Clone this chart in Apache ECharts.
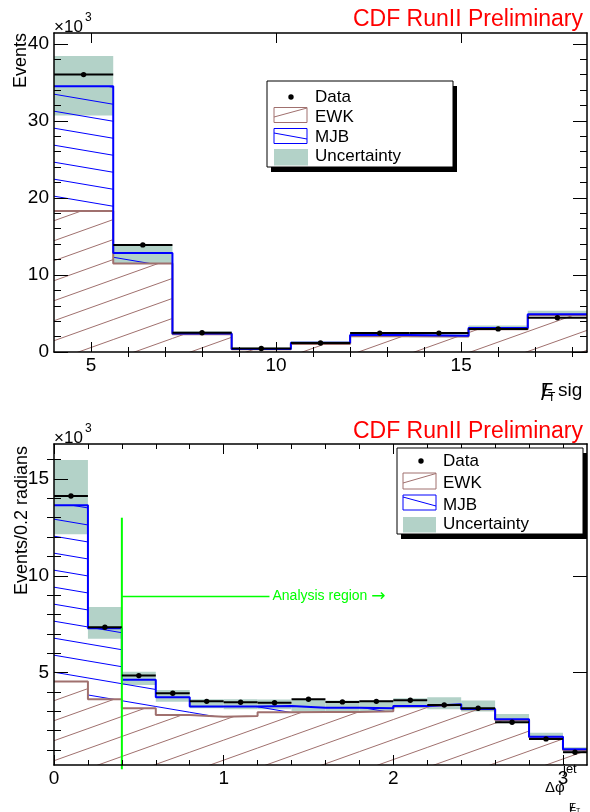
<!DOCTYPE html>
<html><head><meta charset="utf-8">
<script src="https://cdn.jsdelivr.net/npm/echarts@6/dist/echarts.min.js"></script>
<style>html,body{margin:0;padding:0;background:#fff}#c{width:590px;height:812px}</style>
</head><body><div id="c"></div>
<script>
// ---------- top panel: MET significance ----------
const topEdges  = [4.0, 5.6, 7.2, 8.8, 10.4, 12.0, 13.6, 15.2, 16.8, 18.4];
const topData   = [36000, 13900, 2500, 450, 1170, 2450, 2450, 3000, 4450];
const topEWK    = [18300, 11500, 2300, 350, 1050, 2050, 2000, 2950, 4800];
const topTotal  = [34500, 12850, 2400, 400, 1200, 2200, 2100, 3100, 4900];
const topUncLo  = [30700, 11500, 2200, 300, 1000, 2000, 1900, 2900, 4650];
const topUncHi  = [38400, 13850, 2700, 600, 1400, 2500, 2300, 3450, 5350];
const topXMajor = [5, 10, 15];
const topXMinor = [6, 7, 8, 9, 11, 12, 13, 14, 16, 17, 18];
const topYMajor = [0, 10000, 20000, 30000, 40000];
const topYMinor = [2000, 4000, 6000, 8000, 12000, 14000, 16000, 18000, 22000, 24000, 26000, 28000, 32000, 34000, 36000, 38000];

// ---------- bottom panel: delta phi(MET, jet) ----------
const botEdges  = [0, 0.2, 0.4, 0.6, 0.8, 1.0, 1.2, 1.4, 1.6, 1.8, 2.0, 2.2, 2.4, 2.6, 2.8, 3.0, 3.1416];
const botData   = [14120, 7340, 4840, 3930, 3510, 3460, 3440, 3620, 3480, 3510, 3570, 3320, 3150, 2430, 1570, 880];
const botEWK    = [4530, 3620, 3150, 2810, 2720, 2750, 2950, 2960, 2960, 3000, 3250, 3330, 3100, 2550, 1650, 1000];
const botTotal  = [13640, 7290, 4620, 3720, 3240, 3240, 3270, 3180, 3180, 3150, 3270, 3360, 3120, 2580, 1680, 1030];
const botUncLo  = [12140, 6750, 4360, 3490, 3150, 3100, 3100, 2980, 3000, 3000, 3150, 3100, 2980, 2380, 1510, 860];
const botUncHi  = [15980, 8390, 5040, 4100, 3620, 3620, 3600, 3580, 3550, 3550, 3670, 3720, 3550, 2860, 1890, 1140];
const botXMajor = [0, 1, 2, 3];
const botXMinor = [0.2, 0.4, 0.6, 0.8, 1.2, 1.4, 1.6, 1.8, 2.2, 2.4, 2.6, 2.8];
const botYMajor = [5000, 10000, 15000];
const botYMinor = [1000, 2000, 3000, 4000, 6000, 7000, 8000, 9000, 11000, 12000, 13000, 14000, 16000];
const analysisCut = 0.4;
const analysisTop = 13000;
const arrowLevel = 8930;
const arrowEnd = 1.27;
const analysisLabel = 'Analysis region {a|\u2192}';

const FONT = '"Liberation Sans", Arial, Helvetica, sans-serif';
const BROWN = '#a0706e', BLUE = '#0000ff', BAND = '#b3d2c8', GREEN = '#00ff00';

function hatch(W, H, color, rising) {
  const c = document.createElement('canvas'); c.width = W; c.height = H;
  const g = c.getContext('2d'); g.strokeStyle = color; g.lineWidth = 1;
  for (let k = -1; k <= 1; k++) {
    g.beginPath();
    if (rising) { g.moveTo(0, H + k * H); g.lineTo(W, k * H); }
    else { g.moveTo(0, k * H); g.lineTo(W, H + k * H); }
    g.stroke();
  }
  return c;
}
const ewkPat = { image: hatch(56, 20, BROWN, true), repeat: 'repeat' };
const mjbPat = { image: hatch(100, 17, BLUE, false), repeat: 'repeat' };

function makeAxes(dim, gridIndex, min, max, major, minor, fmt, majorLen, minorLen) {
  const pMain = dim === 'x' ? 'bottom' : 'left';
  const pOpp = dim === 'x' ? 'top' : 'right';
  const base = { type: 'value', gridIndex, min, max, z: 10, splitLine: { show: false }, minorTick: { show: false }, axisPointer: { show: false } };
  const line = { show: true, onZero: false, lineStyle: { color: '#000', width: 1.5 } };
  const tick = (vals, len) => ({ show: true, inside: true, length: len, customValues: vals, lineStyle: { color: '#000', width: 1 } });
  return [
    Object.assign({}, base, { position: pMain, axisLine: line, axisTick: tick(major, majorLen),
      axisLabel: { show: true, customValues: major, formatter: fmt, color: '#000', fontSize: 19, fontFamily: FONT, margin: dim === 'x' ? 4 : 5 } }),
    Object.assign({}, base, { position: pMain, axisLine: { show: false }, axisTick: tick(minor, minorLen), axisLabel: { show: false } }),
    Object.assign({}, base, { position: pOpp, axisLine: line, axisTick: tick(major, majorLen), axisLabel: { show: false } }),
    Object.assign({}, base, { position: pOpp, axisLine: { show: false }, axisTick: tick(minor, minorLen), axisLabel: { show: false } })
  ];
}
const fmtX = v => String(v);
const fmtY = v => String(Math.round(v / 1000));

const xAxes = makeAxes('x', 0, 4.0, 18.4, topXMajor, topXMinor, fmtX, 10, 5)
  .concat(makeAxes('x', 1, 0, 3.1416, botXMajor, botXMinor, fmtX, 10, 5));
const yAxes = makeAxes('y', 0, 0, 41400, topYMajor, topYMinor, fmtY, 14, 7)
  .concat(makeAxes('y', 1, 220, 16810, botYMajor, botYMinor, fmtY, 14, 7));

function rectRenderer(fill) {
  return function (params, api) {
    const p0 = api.coord([api.value(0), api.value(3)]);
    const p1 = api.coord([api.value(1), api.value(2)]);
    const cs = params.coordSys;
    const shape = echarts.graphic.clipRectByRect(
      { x: p0[0], y: p0[1], width: p1[0] - p0[0], height: p1[1] - p0[1] },
      { x: cs.x, y: cs.y, width: cs.width, height: cs.height });
    return shape && { type: 'rect', shape, style: { fill } };
  };
}
function dataRenderer(params, api) {
  const x0 = api.value(0), x1 = api.value(1), v = api.value(2);
  const a = api.coord([x0, v]), b = api.coord([x1, v]), c = api.coord([(x0 + x1) / 2, v]);
  return { type: 'group', children: [
    { type: 'line', shape: { x1: a[0], y1: a[1], x2: b[0], y2: b[1] }, style: { stroke: '#000', lineWidth: 2 } },
    { type: 'circle', shape: { cx: c[0], cy: c[1], r: 2.7 }, style: { fill: '#000' } }
  ] };
}
const binRects = (edges, lo, hi) => hi.map((h, i) => [edges[i], edges[i + 1], lo ? lo[i] : 0, h]);
const stepPts = (edges, vals) => vals.map((v, i) => [edges[i], v]).concat([[edges[edges.length - 1], vals[vals.length - 1]]]);

function panelSeries(ax, edges, data, ewk, total, lo, hi) {
  const common = { xAxisIndex: ax, yAxisIndex: ax, silent: true, animation: false };
  return [
    Object.assign({ type: 'custom', renderItem: rectRenderer(BAND), data: binRects(edges, lo, hi), z: 1, encode: { x: [0, 1], y: [2, 3] } }, common),
    Object.assign({ type: 'custom', renderItem: rectRenderer(ewkPat), data: binRects(edges, null, ewk), z: 2, encode: { x: [0, 1], y: [2, 3] } }, common),
    Object.assign({ type: 'custom', renderItem: rectRenderer(mjbPat), data: binRects(edges, ewk, total), z: 2, encode: { x: [0, 1], y: [2, 3] } }, common),
    Object.assign({ type: 'line', step: 'end', symbol: 'none', data: stepPts(edges, ewk), lineStyle: { color: BROWN, width: 2 }, z: 3 }, common),
    Object.assign({ type: 'line', step: 'end', symbol: 'none', data: stepPts(edges, total), lineStyle: { color: BLUE, width: 2 }, z: 3 }, common),
    Object.assign({ type: 'custom', renderItem: dataRenderer, data: data.map((v, i) => [edges[i], edges[i + 1], v]), z: 6, encode: { x: [0, 1], y: 2 } }, common)
  ];
}

const series = panelSeries(0, topEdges, topData, topEWK, topTotal, topUncLo, topUncHi)
  .concat(panelSeries(4, botEdges, botData, botEWK, botTotal, botUncLo, botUncHi))
  .concat([
    { type: 'line', xAxisIndex: 4, yAxisIndex: 4, clip: false, symbol: 'none', silent: true, animation: false, z: 5,
      data: [[analysisCut, 0], [analysisCut, analysisTop]], lineStyle: { color: GREEN, width: 2 } },
    { type: 'line', xAxisIndex: 4, yAxisIndex: 4, symbol: 'none', silent: true, animation: false, z: 5,
      data: [[analysisCut, arrowLevel], [arrowEnd, arrowLevel]], lineStyle: { color: GREEN, width: 1.5 } },
    { type: 'custom', xAxisIndex: 4, yAxisIndex: 4, silent: true, animation: false, z: 5, data: [[arrowEnd, arrowLevel]],
      renderItem: (params, api) => {
        const p = api.coord([api.value(0), api.value(1)]);
        return { type: 'text', x: p[0] + 3, y: p[1], style: { text: analysisLabel, fill: GREEN, font: '14px ' + FONT, textVerticalAlign: 'middle',
          rich: { a: { fontSize: 17, fontFamily: '"DejaVu Sans", sans-serif', fill: GREEN } } } };
      } }
  ]);

function txt(x, y, text, size, extra) {
  return Object.assign({ type: 'text', x, y, z: 100, style: Object.assign({ text, fill: '#000', font: size + 'px ' + FONT, textVerticalAlign: 'middle' }, extra || {}) });
}
function legend(bx, by, rows, dotX, boxX, textX, ewkBox, mjbBox, uncBox, ewkLine, mjbLine) {
  return [
    { type: 'rect', z: 90, shape: { x: bx + 4, y: by + 5, width: 186, height: 86 }, style: { fill: '#000' } },
    { type: 'rect', z: 91, shape: { x: bx, y: by, width: 186, height: 86 }, style: { fill: '#fff', stroke: '#000', lineWidth: 1 } },
    { type: 'circle', z: 92, shape: { cx: dotX, cy: rows[0], r: 2.7 }, style: { fill: '#000' } },
    { type: 'rect', z: 92, shape: ewkBox, style: { fill: '#fff', stroke: BROWN, lineWidth: 1 } },
    { type: 'line', z: 93, shape: ewkLine, style: { stroke: BROWN, lineWidth: 1 } },
    { type: 'rect', z: 92, shape: mjbBox, style: { fill: '#fff', stroke: BLUE, lineWidth: 1 } },
    { type: 'line', z: 93, shape: mjbLine, style: { stroke: BLUE, lineWidth: 1 } },
    { type: 'rect', z: 92, shape: uncBox, style: { fill: BAND } },
    txt(textX, rows[0], 'Data', 17), txt(textX, rows[1], 'EWK', 17),
    txt(textX, rows[2], 'MJB', 17), txt(textX, rows[3], 'Uncertainty', 17)
  ];
}

const graphic = [
  txt(583, 20, 'CDF RunII Preliminary', 23, { fill: '#ff0000', textAlign: 'right' }),
  txt(583, 432, 'CDF RunII Preliminary', 23, { fill: '#ff0000', textAlign: 'right' }),
  txt(54, 27, '\u00d710', 17), txt(85, 18, '3', 12),
  txt(54, 438, '\u00d710', 17), txt(85, 429, '3', 12),
  Object.assign(txt(21, 33, 'Events', 18, { textAlign: 'right' }), { rotation: Math.PI / 2 }),
  Object.assign(txt(22, 446, 'Events/0.2 radians', 18, { textAlign: 'right' }), { rotation: Math.PI / 2 }),
  // x title top: missing-ET significance
  txt(541, 391, 'E', 19), txt(541, 393, '/', 24), txt(548, 398, 'T', 12), txt(558, 391, 'sig', 19),
  // x title bottom: delta phi (MET, jet)
  txt(545, 788, '\u0394\u03c6', 15), txt(563, 769, 'jet', 13),
  txt(569, 808, 'E', 11), txt(570, 808, '/', 13), txt(576, 811, 'T', 7)
].concat(
  legend(267, 81, [97, 117.5, 137, 156], 291, 274, 315,
    { x: 274, y: 107.5, width: 33, height: 15 }, { x: 274, y: 128.5, width: 33, height: 15 }, { x: 274, y: 149, width: 34, height: 16.5 },
    { x1: 274, y1: 117, x2: 307, y2: 108 }, { x1: 274, y1: 133, x2: 307, y2: 139 }),
  legend(397, 448, [461, 483, 505, 524], 421, 403, 443,
    { x: 403, y: 473, width: 33, height: 16 }, { x: 403, y: 495, width: 33, height: 15 }, { x: 403, y: 517, width: 33, height: 15.5 },
    { x1: 403, y1: 483, x2: 436, y2: 473.5 }, { x1: 403, y1: 497, x2: 436, y2: 506 })
);

const chart = echarts.init(document.getElementById('c'), null, { renderer: 'canvas' });
chart.setOption({
  backgroundColor: '#fff',
  animation: false,
  grid: [
    { left: 54, top: 33, width: 533, height: 319, containLabel: false, outerBoundsMode: 'none' },
    { left: 54, top: 444, width: 533, height: 321, containLabel: false, outerBoundsMode: 'none' }
  ],
  xAxis: xAxes,
  yAxis: yAxes,
  series,
  graphic
});
</script></body></html>
